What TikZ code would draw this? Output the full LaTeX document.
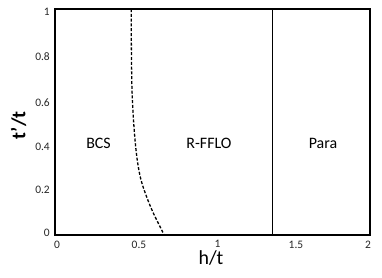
\documentclass[tikz,border=0pt]{standalone}
\usepackage{fontspec}
\setmainfont{Carlito}
\begin{document}
\begin{tikzpicture}[x=1bp,y=-1bp,
  ticklab/.style={font=\fontsize{11.5}{13}\selectfont, text=black!85, inner sep=0pt},
  region/.style={font=\fontsize{16}{18}\selectfont, inner sep=0pt},
  axlab/.style={font=\fontsize{20}{24}\selectfont, inner sep=0pt},
  frameline/.style={line width=1.6bp},
  boundary/.style={line width=1.5bp},
  dashedb/.style={line width=1.3bp, dash pattern=on 3bp off 1.8bp}]
\useasboundingbox (0,0) rectangle (382,278);
% frame
\draw[frameline] (55,9) rectangle (370,235);
% solid boundary
\coordinate (vt) at (272.7,9);
\coordinate (vb) at (272.7,235);
\draw[boundary] (vt) -- (vb);
% dashed boundary
\draw[dashedb] plot[smooth, tension=0.55] coordinates {(131.2,9) (131.4,50) (132,90) (133.5,120) (135.5,145) (137.7,163) (141,180) (146.7,197) (153.3,213) (161.7,230) (164,235)};
% y tick labels
\node[ticklab, anchor=east] (y0) at (50,233) {0};
\node[ticklab, anchor=east] (y2) at (50,190) {0.2};
\node[ticklab, anchor=east] (y4) at (50,147) {0.4};
\node[ticklab, anchor=east] (y6) at (50,102.5) {0.6};
\node[ticklab, anchor=east] (y8) at (50,57) {0.8};
\node[ticklab, anchor=east] (y10) at (50,12) {1};
% x tick labels
\node[ticklab] (x0) at (57,245) {0};
\node[ticklab] (x05) at (139,245) {0.5};
\node[ticklab] (x1) at (217.5,244) {1};
\node[ticklab] (x15) at (296,245) {1.5};
\node[ticklab] (x2) at (368,245) {2};
% axis labels
\node[axlab] (hl) at (211,258) {h/t};
\node[axlab, font=\fontsize{20}{24}\selectfont\bfseries, rotate=90] (tl) at (18.5,125.5) {t’/t};
% regions
\node[region] (bcs) at (98.5,143) {BCS};
\node[region] (ffl) at (209,143) {R-FFLO};
\node[region] (para) at (323,143) {Para};
\end{tikzpicture}
\end{document}
